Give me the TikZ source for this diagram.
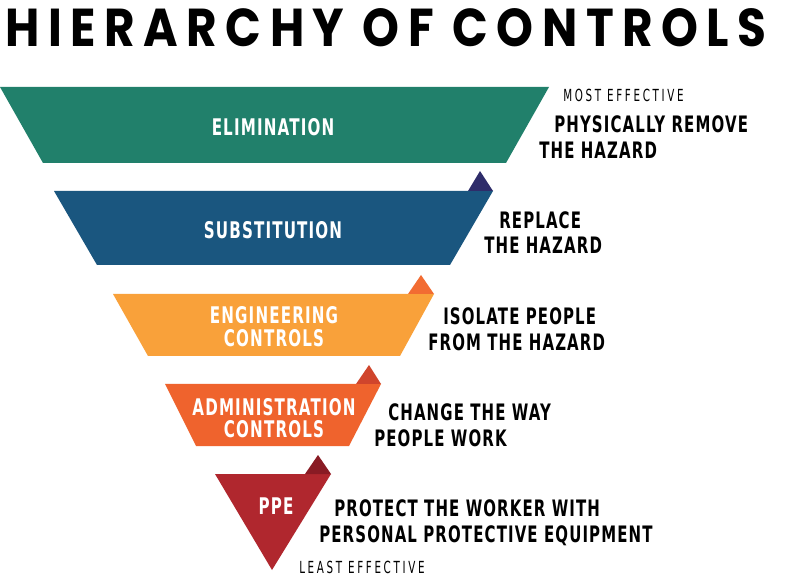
\documentclass[tikz,border=0pt]{standalone}
\usepackage{fontspec}
\usepackage{tikz}

\newfontfamily\titlefont[FakeStretch=0.88,LetterSpace=16]{Poppins}
\newfontfamily\condfont[FakeStretch=0.66,LetterSpace=5]{DejaVu Sans}
\newfontfamily\thinfont[FakeStretch=0.62,LetterSpace=16]{DejaVu Sans}

\definecolor{elimgreen}{RGB}{33,128,107}
\definecolor{substblue}{RGB}{26,86,127}
\definecolor{engorange}{RGB}{249,161,58}
\definecolor{admorange}{RGB}{239,99,45}
\definecolor{ppered}{RGB}{176,39,46}
\definecolor{tipnavy}{RGB}{46,44,106}
\definecolor{tiporange}{RGB}{242,108,50}
\definecolor{tipred}{RGB}{208,69,44}
\definecolor{tipdark}{RGB}{137,27,36}

\tikzset{
  level/.style={text=white,anchor=base,inner sep=0pt,
    font=\condfont\bfseries\fontsize{17.2}{19}\selectfont},
  hint/.style={anchor=base west,inner sep=0pt,
    font=\condfont\bfseries\fontsize{17}{19}\selectfont},
  effect/.style={anchor=base west,inner sep=0pt,
    font=\thinfont\fontsize{12.5}{14}\selectfont}
}

\begin{document}
\begin{tikzpicture}[x=0.75pt,y=-0.75pt]

\useasboundingbox[fill=white] (0,0) rectangle (800,577);

%% levels
\fill[elimgreen] (0,87) -- (549,87) -- (506,163) -- (43,163) -- cycle;
\fill[substblue] (54,191) -- (493,191) -- (450,265) -- (97,265) -- cycle;
\fill[engorange] (113,294) -- (434,294) -- (400,356) -- (148,356) -- cycle;
\fill[admorange] (165,384) -- (381,384) -- (349,446) -- (196,446) -- cycle;
\fill[ppered] (215,474) -- (331,474) -- (272,570) -- cycle;

%% small tips
\fill[tipnavy] (468,191) -- (480,171) -- (493,191) -- cycle;
\fill[tiporange] (408,294) -- (421,275) -- (434,294) -- cycle;
\fill[tipred] (356,384) -- (369,365) -- (381,384) -- cycle;
\fill[tipdark] (305,474) -- (318,455) -- (331,474) -- cycle;

%% title
\node[anchor=base west,inner sep=0pt,font=\titlefont\bfseries\fontsize{40}{44}\selectfont]
  (title) at (5,47) {HIERARCHY OF CONTROLS};

%% labels in the levels
\node[level] (elim) at (273,136) {ELIMINATION};
\node[level] (subst) at (273,239) {SUBSTITUTION};
\node[level] (eng) at (274,324) {ENGINEERING};
\node[level] (engb) at (274,347) {CONTROLS};
\node[level] (adm) at (274,415) {ADMINISTRATION};
\node[level] (admb) at (274,437) {CONTROLS};
\node[level] (ppe) at (276,514) {PPE};

%% hints
\node[effect] (most) at (563,102) {MOST EFFECTIVE};
\node[hint] (elima) at (554,133) {PHYSICALLY REMOVE};
\node[hint] (elimb) at (539,159) {THE HAZARD};
\node[hint] (subsa) at (499,229) {REPLACE};
\node[hint] (subsb) at (484,254) {THE HAZARD};
\node[hint] (enga) at (443,325) {ISOLATE PEOPLE};
\node[hint] (engc) at (428,350) {FROM THE HAZARD};
\node[hint] (adma) at (388,420) {CHANGE THE WAY};
\node[hint] (admc) at (374,446) {PEOPLE WORK};
\node[hint] (ppea) at (334,516) {PROTECT THE WORKER WITH};
\node[hint] (ppeb) at (319,542) {PERSONAL PROTECTIVE EQUIPMENT};
\node[effect] (least) at (299,573) {LEAST EFFECTIVE};

\end{tikzpicture}
\end{document}
